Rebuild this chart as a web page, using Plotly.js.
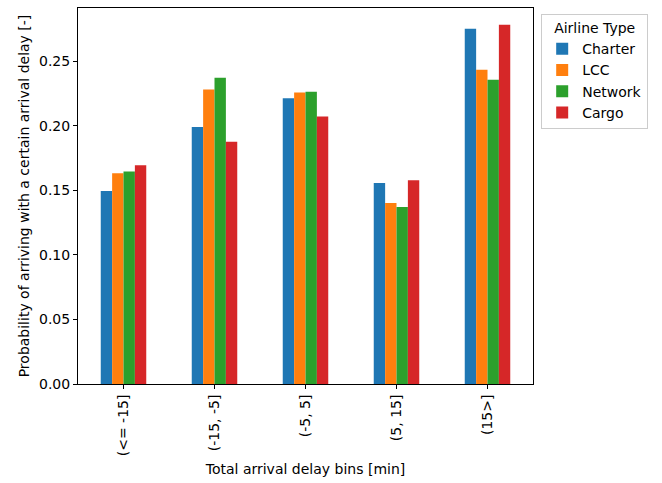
<!DOCTYPE html>
<html>
<head>
<meta charset="utf-8">
<script src="https://cdn.plot.ly/plotly-3.0.1.min.js"></script>
<style>html,body{margin:0;padding:0;background:#fff;}</style>
</head>
<body>
<div id="chart" style="width:662px;height:483px;"></div>
<script>
const categories = ["(<= -15]", "(-15, -5]", "(-5, 5]", "(5, 15]", "(15>]"];
const seriesNames = ["Charter", "LCC", "Network", "Cargo"];
const charter = [0.1496, 0.1992, 0.2214, 0.1558, 0.2753];
const lcc     = [0.1633, 0.2283, 0.2260, 0.1403, 0.2436];
const network = [0.1646, 0.2374, 0.2265, 0.1372, 0.2358];
const cargo   = [0.1695, 0.1878, 0.2074, 0.1579, 0.2784];
const colors = ["#1f77b4", "#ff7f0e", "#2ca02c", "#d62728"];
const yTicks = [0, 0.05, 0.10, 0.15, 0.20, 0.25];

const allValues = [charter, lcc, network, cargo];
const traces = allValues.map((vals, i) => ({
  type: "bar",
  name: seriesNames[i],
  x: categories,
  y: vals,
  marker: {color: colors[i], line: {width: 0}},
  hoverinfo: "x+y+name"
}));

const font = {family: "DejaVu Sans, sans-serif", size: 14, color: "#000"};
const layout = {
  width: 662, height: 483,
  paper_bgcolor: "#fff", plot_bgcolor: "#fff",
  font: font,
  margin: {l: 78, r: 129, t: 8, b: 99, pad: 0},
  barmode: "group",
  bargap: 0.5,
  bargroupgap: 0,
  showlegend: true,
  legend: {
    x: 1.018, y: 0.984, xanchor: "left", yanchor: "top",
    bordercolor: "#cccccc", borderwidth: 1, bgcolor: "#fff",
    title: {text: "Airline Type", side: "top center", font: font},
    font: font,
    tracegroupgap: 0
  },
  xaxis: {
    type: "category",
    range: [-0.5, 4.5],
    showline: true, mirror: true, linecolor: "#000", linewidth: 1,
    ticks: "outside", ticklen: 4, tickcolor: "#000",
    tickangle: -90,
    showgrid: false, zeroline: false,
    tickfont: font,
    title: {text: "Total arrival delay bins [min]", font: font, standoff: 8}
  },
  yaxis: {
    range: [0, 0.2914],
    tickvals: yTicks,
    tickformat: ".2f",
    showline: true, mirror: true, linecolor: "#000", linewidth: 1,
    ticks: "outside", ticklen: 4, tickcolor: "#000",
    showgrid: false, zeroline: false,
    tickfont: font,
    title: {text: "Probability of arriving with a certain arrival delay [-]", font: font, standoff: 6}
  }
};

Plotly.newPlot("chart", traces, layout, {displayModeBar: false, staticPlot: true});
</script>
</body>
</html>
